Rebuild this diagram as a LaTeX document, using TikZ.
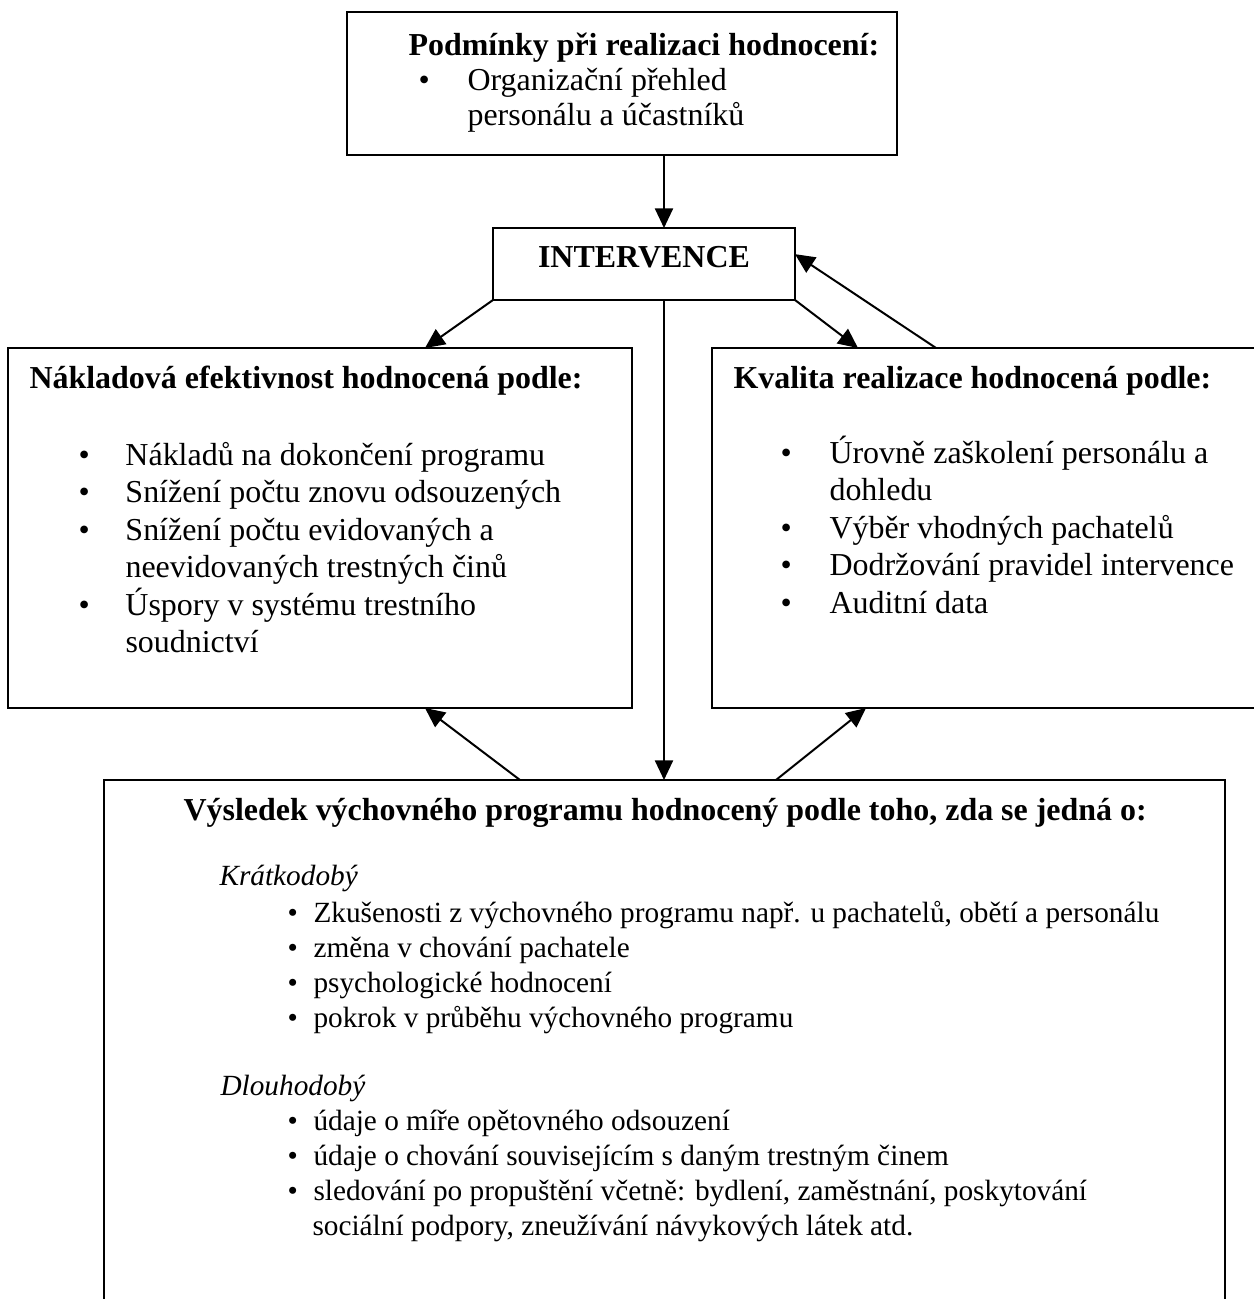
\documentclass[tikz,border=0pt]{standalone}
\usepackage{fontspec}
\setmainfont{Liberation Serif}
\usetikzlibrary{arrows.meta}

\newlength\px
\setlength\px{0.3756pt}
% one bullet line and one continuation line of a list
\newcommand\bul[2]{\hbox{\makebox[#1][l]{\textbullet}#2}}
\newcommand\cont[2]{\hbox{\hspace*{#1}#2}}

\begin{document}
\begin{tikzpicture}[
    x=1\px, y=-1\px,
    box/.style={draw, line width=0.75pt, anchor=north west, inner sep=0pt, outer sep=0pt},
    head/.style={anchor=base west, inner sep=0pt, font=\fontsize{12}{14.1}\selectfont\bfseries},
    txt/.style={anchor=base west, inner sep=0pt, font=\fontsize{12}{14.1}\selectfont},
    small/.style={anchor=base west, inner sep=0pt, font=\fontsize{11}{13.15}\selectfont},
    arrow/.style={-{Triangle[length=7.4pt,width=6.8pt]}, line width=0.75pt}
]
    \useasboundingbox (0,0) rectangle (1254,1299);
    \clip (0,0) rectangle (1254,1299);

    % boxes
    \node[box, minimum width=550\px, minimum height=143\px] (cond) at (347,12) {};
    \node[box, minimum width=302\px, minimum height=72\px] (interv) at (493,228) {};
    \node[box, minimum width=624\px, minimum height=360\px] (cost) at (8,348) {};
    \node[box, minimum width=570\px, minimum height=360\px] (qual) at (712,348) {};
    \node[box, minimum width=1121\px, minimum height=560\px] (outc) at (104,780) {};

    % texts
    \node[head] (condhead) at (408,55) {Podmínky při realizaci hodnocení:};
    \node[txt, font=\fontsize{12}{13.15}\selectfont] (condlist) at (418,90) {\vtop{%
        \bul{49\px}{Organizační přehled}
        \cont{49\px}{personálu a účastníků}}};

    \node[head, anchor=base] (intervhead) at (644,267) {INTERVENCE};

    \node[head] (costhead) at (29,388) {Nákladová efektivnost hodnocená podle:};
    \node[txt] (costlist) at (78,465) {\vtop{%
        \bul{47\px}{Nákladů na dokončení programu}
        \bul{47\px}{Snížení počtu znovu odsouzených}
        \bul{47\px}{Snížení počtu evidovaných a}
        \cont{47\px}{neevidovaných trestných činů}
        \bul{47\px}{Úspory v systému trestního}
        \cont{47\px}{soudnictví}}};

    \node[head] (qualhead) at (733,388) {Kvalita realizace hodnocená podle:};
    \node[txt] (quallist) at (780,463) {\vtop{%
        \bul{49\px}{Úrovně zaškolení personálu a}
        \cont{49\px}{dohledu}
        \bul{49\px}{Výběr vhodných pachatelů}
        \bul{49\px}{Dodržování pravidel intervence}
        \bul{49\px}{Auditní data}}};

    \node[head] (outchead) at (183,820) {Výsledek výchovného programu hodnocený podle toho, zda se jedná o:};
    \node[small, font=\fontsize{11}{13.15}\itshape] (short) at (219,885) {Krátkodobý};
    \node[small] (shortlist) at (287,922) {\vtop{%
        \bul{26\px}{Zkušenosti z výchovného programu např. u pachatelů, obětí a personálu}
        \bul{26\px}{změna v chování pachatele}
        \bul{26\px}{psychologické hodnocení}
        \bul{26\px}{pokrok v průběhu výchovného programu}}};
    \node[small, font=\fontsize{11}{13.15}\itshape] (long) at (220,1095) {Dlouhodobý};
    \node[small] (longlist) at (287,1130) {\vtop{%
        \bul{26\px}{údaje o míře opětovného odsouzení}
        \bul{26\px}{údaje o chování souvisejícím s daným trestným činem}
        \bul{26\px}{sledování po propuštění včetně: bydlení, zaměstnání, poskytování}
        \cont{25\px}{sociální podpory, zneužívání návykových látek atd.}}};

    % connectors
    \coordinate (vx) at (664,0);
    \coordinate (la) at (425,0);
    \coordinate (ra) at (858,0);
    \coordinate (rb) at (936,0);
    \coordinate (rc) at (866,0);
    \coordinate (ba) at (520,0);
    \coordinate (bb) at (776,0);

    \draw[arrow] (cond.south -| vx) -- (interv.north -| vx);
    \draw[arrow] (interv.south -| vx) -- (outc.north -| vx);
    \draw[arrow] (interv.south west) -- (cost.north -| la);
    \draw[arrow] (interv.south east) -- (qual.north -| ra);
    \draw[arrow] (qual.north -| rb) -- ([yshift=3.7pt]interv.east);
    \draw[arrow] (outc.north -| ba) -- (cost.south -| la);
    \draw[arrow] (outc.north -| bb) -- (qual.south -| rc);
\end{tikzpicture}
\end{document}
